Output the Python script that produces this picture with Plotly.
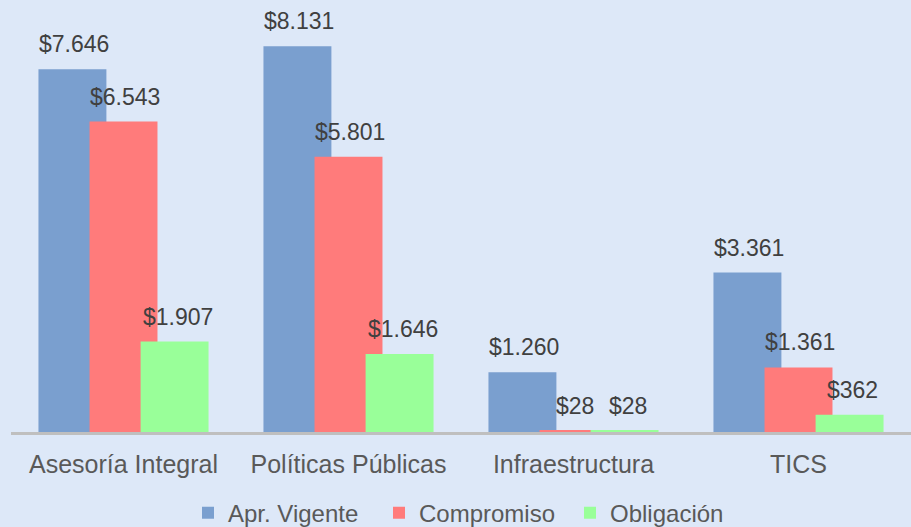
import plotly.graph_objects as go

categories = ["Asesoría Integral", "Políticas Públicas", "Infraestructura", "TICS"]
series_names = ["Apr. Vigente", "Compromiso", "Obligación"]
apr_vigente = [7646, 8131, 1260, 3361]
compromiso = [6543, 5801, 28, 1361]
obligacion = [1907, 1646, 28, 362]
value_labels = {
    "Apr. Vigente": ["$7.646", "$8.131", "$1.260", "$3.361"],
    "Compromiso": ["$6.543", "$5.801", "$28", "$1.361"],
    "Obligación": ["$1.907", "$1.646", "$28", "$362"],
}

colors = ["#7A9FCF", "#FF7B7B", "#99FF99"]
offsets = [-0.378, -0.151, 0.076]
bar_width = 0.302
px_shift = [-50, 1, 54]
FONT = "Liberation Sans, Arial, sans-serif"
BG = "#DDE8F8"

fig = go.Figure()
all_vals = [apr_vigente, compromiso, obligacion]
for name, vals, col, off in zip(series_names, all_vals, colors, offsets):
    fig.add_trace(go.Bar(
        x=categories, y=vals, name=name, marker_color=col,
        marker_line_width=0, width=bar_width, offset=off,
        hoverinfo="x+y",
    ))

for name, vals, sh in zip(series_names, all_vals, px_shift):
    for c, v, t in zip(categories, vals, value_labels[name]):
        fig.add_annotation(
            x=c, y=v, text=t, showarrow=False, xref="x", yref="y",
            xshift=sh, yanchor="middle", yshift=25,
            font=dict(family=FONT, size=23, color="#404040"),
        )

fig.update_layout(
    width=911, height=527,
    barmode="overlay",
    paper_bgcolor=BG, plot_bgcolor=BG,
    margin=dict(l=11, r=0, t=5, b=95, autoexpand=False),
    font=dict(family=FONT, size=20, color="#595959"),
    showlegend=True,
    legend=dict(orientation="h", x=0.515, xanchor="center", yref="paper",
                y=-0.19, yanchor="middle", font=dict(family=FONT, size=24, color="#595959"),
                bgcolor="rgba(0,0,0,0)", itemwidth=30, entrywidth=146,
                traceorder="normal"),
    xaxis=dict(showline=True, linecolor="#BFBFBF", linewidth=3, ticks="",
               range=[-0.5, 3.5], showgrid=False, ticklabelstandoff=8,
               tickfont=dict(family=FONT, size=25, color="#595959")),
    yaxis=dict(range=[0, 9000], visible=False, showgrid=False, zeroline=False),
)

fig.write_html(
    "out.html",
    config={"displayModeBar": False},
    post_script="document.body.style.margin='0';document.body.style.background='" + BG + "';",
)
